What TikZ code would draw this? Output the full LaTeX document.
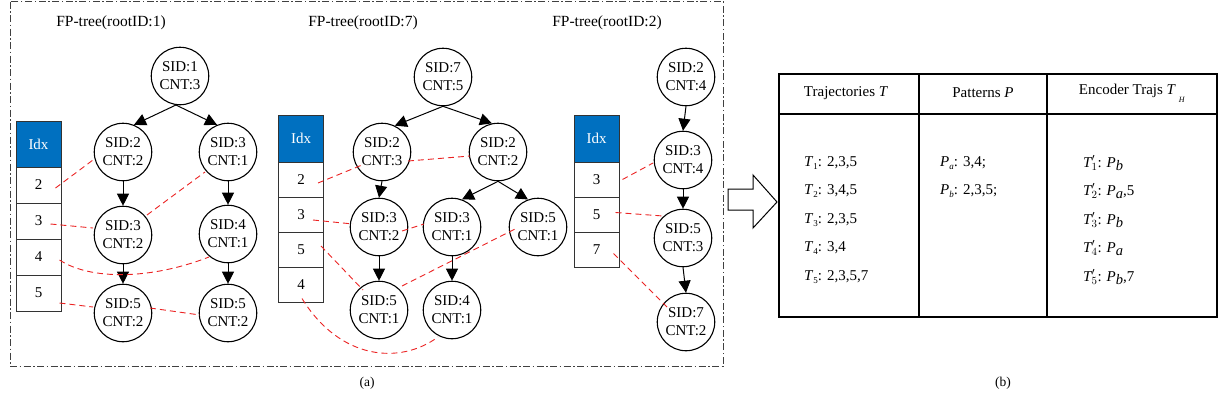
\documentclass[tikz,border=0pt]{standalone}
\usepackage{fontspec}
\setmainfont{Liberation Serif}
\usetikzlibrary{arrows.meta,calc}
\definecolor{idxblue}{RGB}{0,112,192}
\definecolor{fpred}{RGB}{235,35,35}
\newcommand\mysub[1]{\raisebox{-0.55ex}{\fontsize{9}{9}\selectfont #1}}
\newcommand\mytp[1]{$\textit{T}'_{#1}$}
\newcommand\mypb[1]{\textit{P}\raisebox{-0.45ex}{\fontsize{14.5}{14}\selectfont\textit{#1}}}
\begin{document}
\begin{tikzpicture}[x=1pt,y=-1pt,
  sid/.style={circle,draw,line width=1.1pt,minimum size=57.5pt,inner sep=0pt,align=center,
    font=\fontsize{15}{18}\selectfont},
  tarrow/.style={-{Triangle[length=12pt,width=12pt]},line width=1pt},
  link/.style={draw=fpred,dash pattern=on 6pt off 4pt,line width=0.9pt},
  idxhead/.style={rectangle,draw=black!80,fill=idxblue,text=white,minimum width=45pt,
    minimum height=47pt,inner sep=0pt,line width=1pt,font=\fontsize{15}{17}\selectfont},
  idxcell/.style={rectangle,draw=black!80,minimum width=45pt,minimum height=35pt,inner sep=0pt,
    line width=1pt,font=\fontsize{15}{17}\selectfont},
  ttl/.style={font=\fontsize{15.5}{18}\selectfont,inner sep=0pt},
  tbtxt/.style={font=\fontsize{15}{17}\selectfont,inner sep=0pt,anchor=west},
  tbhead/.style={font=\fontsize{15}{17}\selectfont,inner sep=0pt},
  captxt/.style={font=\fontsize{13.5}{15}\selectfont,inner sep=0pt}
]
\useasboundingbox (0,0) rectangle (1220,407);

% frame
\draw[black!75,line width=0.9pt,dash pattern=on 7pt off 2.5pt on 1.5pt off 2.5pt] (10,1.5) rectangle (723,366);

% titles
\node[ttl] (t1) at (111,23) {FP-tree(rootID:1)};
\node[ttl] (t2) at (363,23) {FP-tree(rootID:7)};
\node[ttl] (t3) at (607,23) {FP-tree(rootID:2)};

% ---------- tree 1 ----------
\node[idxhead,minimum height=46pt] (h1) at (38.5,144) {Idx};
\node[idxcell,minimum height=36pt] (a1) at (38.5,185) {2};
\node[idxcell,minimum height=36pt] (a2) at (38.5,221) {3};
\node[idxcell,minimum height=36pt] (a3) at (38.5,257) {4};
\node[idxcell,minimum height=36pt] (a4) at (38.5,293) {5};

\node[sid] (p0) at (180,76) {SID:1\\CNT:3};
\node[sid] (p1) at (123,152) {SID:2\\CNT:2};
\node[sid] (p2) at (228,152) {SID:3\\CNT:1};
\node[sid] (p3) at (123,235) {SID:3\\CNT:2};
\node[sid] (p4) at (228,234) {SID:4\\CNT:1};
\node[sid] (p5) at (123,313) {SID:5\\CNT:2};
\node[sid] (p6) at (228,313) {SID:5\\CNT:2};

\draw[tarrow] (p0.262) -- (p1.68);
\draw[tarrow] (p0.262) -- (p2.112);
\draw[tarrow] (p1.south) -- (p3.north);
\draw[tarrow] (p2.south) -- (p4.north);
\draw[tarrow] (p3.south) -- (p5.north);
\draw[tarrow] (p4.south) -- (p6.north);

\draw[link] ($(a1.east)+(-6,3)$) -- ($(p1)+(-30,8)$);
\draw[link] ($(a2.east)+(-11,3)$) -- ($(p3)+(-30,-7)$);
\draw[link] ($(p3)+(24,-20)$) -- ($(p2)+(-23,20)$);
\draw[link] ($(a3.east)+(-2,3)$) .. controls (90,280) and (150,280) .. ($(p4)+(-19,23)$);
\draw[link] ($(a4.east)+(-2,10)$) -- ($(p5)+(-30,-6)$);
\draw[link] ($(p5)+(27,-5)$) -- ($(p6)+(-28,2)$);

% ---------- tree 2 ----------
\node[idxhead] (h2) at (301,138.5) {Idx};
\node[idxcell] (b1) at (301,179.5) {2};
\node[idxcell] (b2) at (301,214.5) {3};
\node[idxcell] (b3) at (301,249.5) {5};
\node[idxcell] (b4) at (301,284.5) {4};

\node[sid] (q0) at (443,77) {SID:7\\CNT:5};
\node[sid] (q1) at (382,152) {SID:2\\CNT:3};
\node[sid] (q2) at (498,152) {SID:2\\CNT:2};
\node[sid] (q3) at (379,227) {SID:3\\CNT:2};
\node[sid] (q4) at (452,227) {SID:3\\CNT:1};
\node[sid] (q5) at (538,227) {SID:5\\CNT:1};
\node[sid] (q6) at (379,310) {SID:5\\CNT:1};
\node[sid] (q7) at (452,310) {SID:4\\CNT:1};

\draw[tarrow] (q0.south) -- (q1.64);
\draw[tarrow] (q0.south) -- (q2.102);
\draw[tarrow] (q1.south) -- (q3.north);
\draw[tarrow] (q2.south) -- (q4.70);
\draw[tarrow] (q2.south) -- (q5.110);
\draw[tarrow] (q3.south) -- (q6.north);
\draw[tarrow] (q4.south) -- (q7.north);

\draw[link] ($(b1.east)+(-6,3.5)$) -- ($(q1)+(-20,13)$);
\draw[link] ($(q1)+(26,9)$) -- ($(q2)+(-28,4)$);
\draw[link] ($(b2.east)+(-11,5.5)$) -- ($(q3)+(-26,-3)$);
\draw[link] ($(q3)+(23,4)$) -- ($(q4)+(-28,-3)$);
\draw[link] ($(b3.east)+(-3,-3.5)$) -- ($(q6)+(-16,-20)$);
\draw[link] ($(q6)+(23,-24)$) -- ($(q5)+(-23,2)$);
\draw[link] ($(b4.south)+(1,-4)$) .. controls (340,360) and (400,365) .. ($(q7)+(-14,27)$);

% ---------- tree 3 ----------
\node[idxhead] (h3) at (596.5,138.5) {Idx};
\node[idxcell] (c1) at (596.5,179.5) {3};
\node[idxcell] (c2) at (596.5,214.5) {5};
\node[idxcell] (c3) at (596.5,249.5) {7};

\node[sid] (r0) at (686,77) {SID:2\\CNT:4};
\node[sid] (r1) at (683,160) {SID:3\\CNT:4};
\node[sid] (r2) at (683,238) {SID:5\\CNT:3};
\node[sid] (r3) at (686,322) {SID:7\\CNT:2};

\draw[tarrow] (r0.south) -- (r1.north);
\draw[tarrow] (r1.south) -- (r2.north);
\draw[tarrow] (r2.south) -- (r3.north);

\draw[link] ($(c1.east)+(3,0)$) -- ($(r1)+(-30,3)$);
\draw[link] ($(c2.east)+(-4,-2)$) -- ($(r2)+(-20,-22)$);
\draw[link] ($(c3.east)+(-6,4)$) -- ($(r3)+(-19,-15)$);

% ---------- hollow arrow ----------
\draw[line width=1pt,fill=white] (728,189) -- (753,189) -- (753,175) -- (777,202) -- (753,228) -- (753,210) -- (728,210) -- cycle;

% ---------- table ----------
\draw[line width=1.2pt] (779,74) rectangle (1217,317);
\draw[line width=1.2pt] (779,114) -- (1217,114);
\draw[line width=1.2pt] (919,74) -- (919,317);
\draw[line width=1.2pt] (1047,74) -- (1047,317);

\node[tbhead] (k1) at (846,93) {Trajectories \textit{T}};
\node[tbhead] (k2) at (983,93) {Patterns \textit{P}};
\node[tbhead] (k3) at (1132,93) {Encoder Trajs \textit{T}\hspace{3pt}\raisebox{-1.2ex}{\fontsize{8}{8}\selectfont\textit{H}}};

\node[tbtxt] (u1) at (804,163) {\textit{T}\mysub{1}: 2,3,5};
\node[tbtxt] (u2) at (804,191) {\textit{T}\mysub{2}: 3,4,5};
\node[tbtxt] (u3) at (804,220) {\textit{T}\mysub{3}: 2,3,5};
\node[tbtxt] (u4) at (804,248) {\textit{T}\mysub{4}: 3,4};
\node[tbtxt] (u5) at (804,277) {\textit{T}\mysub{5}: 2,3,5,7};

\node[tbtxt] (v1) at (940,163) {\textit{P}\mysub{\textit{a}}: 3,4;};
\node[tbtxt] (v2) at (940,191) {\textit{P}\mysub{\textit{b}}: 2,3,5;};

\node[tbtxt] (w1) at (1083,163) {\mytp{1}: \mypb{b}};
\node[tbtxt] (w2) at (1083,191) {\mytp{2}: \mypb{a},5};
\node[tbtxt] (w3) at (1083,220) {\mytp{3}: \mypb{b}};
\node[tbtxt] (w4) at (1083,248) {\mytp{4}: \mypb{a}};
\node[tbtxt] (w5) at (1083,277) {\mytp{5}: \mypb{b},7};

% captions
\node[captxt] (ca) at (367,383) {(a)};
\node[captxt] (cb) at (1003,383) {(b)};
\end{tikzpicture}
\end{document}
